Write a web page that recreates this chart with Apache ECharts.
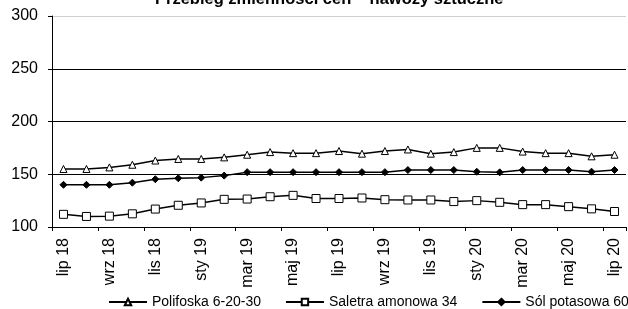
<!DOCTYPE html>
<html><head><meta charset="utf-8">
<script src="https://cdn.jsdelivr.net/npm/echarts@6/dist/echarts.min.js"></script>
<style>html,body{margin:0;padding:0;background:#fff}#c{width:628px;height:309px}</style>
</head><body><div id="c"></div>
<script>
var categories = ['lip 18','sie 18','wrz 18','paź 18','lis 18','gru 18','sty 19','lut 19','mar 19','kwi 19','maj 19','cze 19','lip 19','sie 19','wrz 19','paź 19','lis 19','gru 19','sty 20','lut 20','mar 20','kwi 20','maj 20','cze 20','lip 20'];
var polifoska = [155,155,156.5,159,163,164.5,164.5,166,168.5,171,170,170,172,169.5,172,173.5,169.5,171,175,175,171.5,170,170,167,168.5];
var saletra = [112,110,110.3,112.5,117,120.6,122.8,126.2,126.5,128.7,130,127,127,127.5,125.9,125.6,125.6,124.1,125,123.4,121.2,121.2,119.3,117.2,114.7];
var sol = [140,140,140,142,145.3,146.2,146.8,148.7,152,152,152,152,152,152,152,154,154,154,152.4,151.8,154,154,154,152.4,154];
var seriesNames = ['Polifoska 6-20-30','Saletra amonowa 34','Sól potasowa 60'];
var titleText = 'Przebieg zmienności cen – nawozy sztuczne';

var FONT = "'Liberation Sans', Arial, sans-serif";
var chart = echarts.init(document.getElementById('c'), null, {renderer:'canvas'});
function mk(name, data, symbol, size, fill){
  return {name:name, type:'line', data:data, symbol:symbol, symbolSize:size, showAllSymbol:true,
    lineStyle:{color:'#000', width:1.5}, itemStyle:{color:fill, borderColor:'#000', borderWidth:1}, animation:false};
}
chart.setOption({
  animation:false,
  title:{text:titleText, left:155, top:-9, padding:0, textStyle:{fontFamily:FONT, fontSize:16.5, fontWeight:'bold', color:'#000'}},
  grid:{left:52, right:2, top:16, bottom:82, containLabel:false},
  legend:{top:295, left:108, width:560, itemWidth:38, itemHeight:8, itemGap:24, padding:0,
    textStyle:{fontFamily:FONT, fontSize:14, color:'#000'},
    data:seriesNames},
  xAxis:{type:'category', data:categories, boundaryGap:true,
    axisLine:{lineStyle:{color:'#000', width:1}},
    axisTick:{show:true, interval:1, length:4, lineStyle:{color:'#000'}},
    axisLabel:{interval:1, rotate:90, fontFamily:FONT, fontSize:16, color:'#000', margin:11}},
  yAxis:{type:'value', min:100, max:300, interval:50,
    axisLine:{show:true, lineStyle:{color:'#000'}},
    axisTick:{show:true, length:4, lineStyle:{color:'#000'}},
    axisLabel:{fontFamily:FONT, fontSize:16, color:'#000', margin:14},
    splitLine:{lineStyle:{color:['#000','#000','#000','#000','#d0d0d0'], width:1}}},
  series:[
    mk(seriesNames[0], polifoska, 'triangle', 7, '#fff'),
    mk(seriesNames[1], saletra, 'rect', 8, '#fff'),
    mk(seriesNames[2], sol, 'diamond', 7, '#000')
  ]
});
</script></body></html>
